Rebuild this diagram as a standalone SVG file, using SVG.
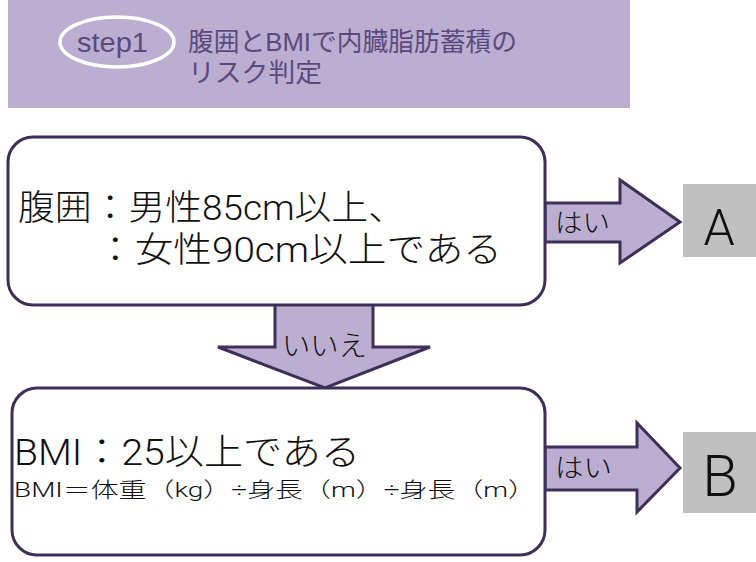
<svg xmlns="http://www.w3.org/2000/svg" width="756" height="562" viewBox="0 0 756 562">
<style>
.hdr{fill:#5B4A7E;font-family:"Liberation Sans","Noto Sans CJK JP",sans-serif}
.box{fill:#ffffff;stroke:#3E2F58;stroke-width:3}
.arr{fill:#BCAED0;stroke:#3E2F58;stroke-width:3;stroke-linejoin:miter}
.res{fill:#C0C0C0}
.t{fill:#111111;font-family:Roboto,"Noto Sans CJK JP",sans-serif;font-weight:300}
</style>
<rect width="756" height="562" fill="#ffffff"/>
<g id="header">
<rect x="8" y="0" width="622" height="108" fill="#BCAED0"/>
<ellipse cx="117" cy="42" rx="57" ry="25" fill="none" stroke="#ffffff" stroke-width="3.5"/>
<text class="hdr" x="77" y="52" font-size="27" textLength="71" lengthAdjust="spacingAndGlyphs">step1</text>
<text class="hdr" font-size="26"><tspan x="188" y="51" textLength="329" lengthAdjust="spacingAndGlyphs">腹囲とBMIで内臓脂肪蓄積の</tspan><tspan x="188" y="82" textLength="134" lengthAdjust="spacingAndGlyphs">リスク判定</tspan></text>
</g>
<g id="connectors">
<path class="arr" d="M545,203 H620 V180 L680,222 L620,263 V242 H545 Z"/>
<path class="arr" d="M275,306 V347 H218 L325,388 L430,347 H373 V306"/>
<path class="arr" d="M545,447 H637 V423 L680,468 L637,512 V490 H545 Z"/>
<text class="t" x="555" y="232" font-size="26" textLength="55" lengthAdjust="spacingAndGlyphs">はい</text>
<text class="t" x="282" y="356" font-size="28" textLength="85" lengthAdjust="spacingAndGlyphs">いいえ</text>
<text class="t" x="555" y="477" font-size="26" textLength="57" lengthAdjust="spacingAndGlyphs">はい</text>
</g>
<g id="node-waist">
<rect class="box" x="8" y="137" width="537" height="168" rx="25"/>
<text class="t" font-size="35"><tspan x="18" y="220" textLength="387" lengthAdjust="spacingAndGlyphs">腹囲：男性85cm以上、</tspan><tspan x="96" y="262" textLength="406" lengthAdjust="spacingAndGlyphs">：女性90cm以上である</tspan></text>
</g>
<g id="node-bmi">
<rect class="box" x="12" y="388" width="533" height="167" rx="25"/>
<text class="t" font-size="36"><tspan x="14" y="465" textLength="346" lengthAdjust="spacingAndGlyphs">BMI：25以上である</tspan><tspan x="14" y="497" font-size="21" textLength="522" lengthAdjust="spacingAndGlyphs">BMI＝体重（kg）÷身長（m）÷身長（m）</tspan></text>
</g>
<g id="node-a">
<rect class="res" x="683" y="184" width="73" height="73"/>
<text class="t" x="719" y="245" font-size="50" text-anchor="middle">A</text>
</g>
<g id="node-b">
<rect class="res" x="683" y="432" width="73" height="81"/>
<text class="t" x="720" y="496" font-size="58" text-anchor="middle">B</text>
</g>
</svg>
